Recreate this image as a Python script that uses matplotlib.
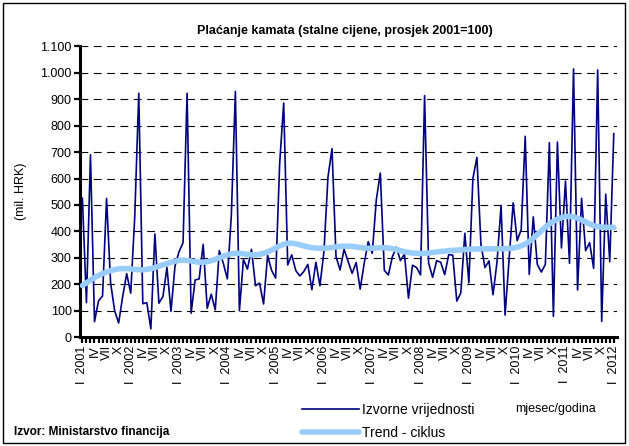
import numpy as np
import matplotlib
matplotlib.use('Agg')
import matplotlib.pyplot as plt
from matplotlib.patches import Rectangle

plt.rcParams['font.family'] = ['Liberation Sans', 'DejaVu Sans']

# Mjesečni podaci, siječanj 2001 - siječanj 2012 (mil. HRK)
godine = list(range(2001, 2013))
izvorne = [
    525, 130, 690, 58, 137, 155, 525, 205, 100, 53, 153, 240,      # 2001
    166, 455, 923, 126, 130, 31, 390, 128, 153, 264, 97, 269,      # 2002
    323, 357, 923, 90, 216, 220, 351, 109, 162, 103, 327, 279,     # 2003
    220, 462, 930, 99, 294, 257, 332, 194, 204, 125, 309, 252,     # 2004
    223, 657, 886, 273, 311, 252, 231, 248, 275, 179, 283, 194,    # 2005
    323, 606, 713, 304, 254, 332, 286, 241, 282, 181, 279, 361,    # 2006
    317, 518, 621, 252, 235, 304, 340, 289, 314, 147, 272, 263,    # 2007
    235, 914, 280, 226, 289, 283, 236, 312, 310, 136, 167, 393,    # 2008
    205, 600, 680, 350, 263, 288, 160, 285, 498, 83, 296, 508,     # 2009
    365, 406, 760, 237, 455, 275, 246, 275, 736, 78, 738, 337,     # 2010
    590, 279, 1015, 178, 525, 327, 357, 260, 1011, 59, 541, 285,   # 2011
    770,                                                           # 2012
]
trend = [
    195, 205, 215, 225, 233, 240, 246, 251, 255, 258, 259, 259,
    258, 256, 255, 254, 256, 259, 263, 268, 273, 278, 283, 287,
    290, 291, 290, 288, 285, 283, 283, 285, 289, 294, 300, 306,
    311, 315, 317, 317, 315, 313, 311, 311, 313, 317, 322, 329,
    337, 345, 351, 355, 355, 353, 349, 345, 341, 338, 337, 336,
    336, 337, 339, 341, 343, 344, 344, 343, 341, 339, 337, 336,
    336, 337, 338, 338, 337, 334, 331, 327, 323, 320, 318, 317,
    316, 317, 318, 320, 322, 324, 325, 327, 328, 329, 330, 331,
    332, 333, 333, 334, 334, 334, 334, 334, 334, 334, 335, 337,
    340, 345, 352, 362, 374, 388, 402, 416, 428, 438, 446, 452,
    456, 457, 455, 450, 443, 436, 428, 422, 418, 416, 415, 415,
    415,
]
mjeseci_kvartal = ['I', 'IV', 'VII', 'X']

# oznake na x osi: svaki mjesec crtica, svaki treći mjesec natpis
x = np.arange(len(izvorne))
oznake = []
for k in x:
    m = k % 12
    if m == 0:
        oznake.append('I  ' + str(godine[k // 12]))
    elif m % 3 == 0:
        oznake.append(mjeseci_kvartal[m // 3])
    else:
        oznake.append('')

fig = plt.figure(figsize=(6.29, 4.46), dpi=100)
ax = fig.add_axes([80/629, 1 - 337/446, 537/629, 290.5/446])

l1, = ax.plot(x, izvorne, color='#000080', lw=1.2, label='Izvorne vrijednosti', zorder=3)
l2, = ax.plot(x, trend, color='#99CCFF', lw=4, label='Trend - ciklus', zorder=4,
              solid_capstyle='round')

ax.set_xlim(-0.6, 132.8)
ax.set_ylim(0, 1100)
ax.set_yticks(np.arange(0, 1101, 100))
ax.set_yticklabels([f'{v:,}'.replace(',', '.') for v in range(0, 1101, 100)], fontsize=9)
ax.set_xticks(x)
ax.set_xticklabels(oznake, rotation=90, fontsize=9, va='top', ha='center')

for v in range(100, 1101, 100):
    ax.axhline(v, color='black', lw=0.8, ls=(0, (7, 5)), zorder=1)

for s in ['top', 'right']:
    ax.spines[s].set_visible(False)
for s in ['left', 'bottom']:
    ax.spines[s].set_linewidth(2.2)
ax.tick_params(axis='both', length=4, width=1.6, direction='out', pad=2)
ax.set_ylabel('(mil. HRK)', fontsize=9)
ax.yaxis.set_label_coords(-0.098, 0.5)

fig.text(345/629, 1 - 31/446, 'Plaćanje kamata (stalne cijene, prosjek 2001=100)',
         ha='center', va='center', fontsize=9, fontweight='bold')
fig.text(515/629, 1 - 409/446, 'mjesec/godina', ha='left', va='center', fontsize=9)
fig.text(14/629, 1 - 432/446, 'Izvor: Ministarstvo financija', ha='left', va='center',
         fontsize=8.5, fontweight='bold')

fig.legend(handles=[l1, l2], loc='upper left', bbox_to_anchor=(302/629, 1 - 403/446),
           frameon=False, fontsize=10, handlelength=4.1, handletextpad=0.25,
           labelspacing=0.62, borderaxespad=0, borderpad=0)

fig.patches.append(Rectangle((3/629, 3/446), 622/629, 440/446, transform=fig.transFigure,
                             fill=False, edgecolor='black', lw=1))

plt.savefig('out.png', dpi=100)
